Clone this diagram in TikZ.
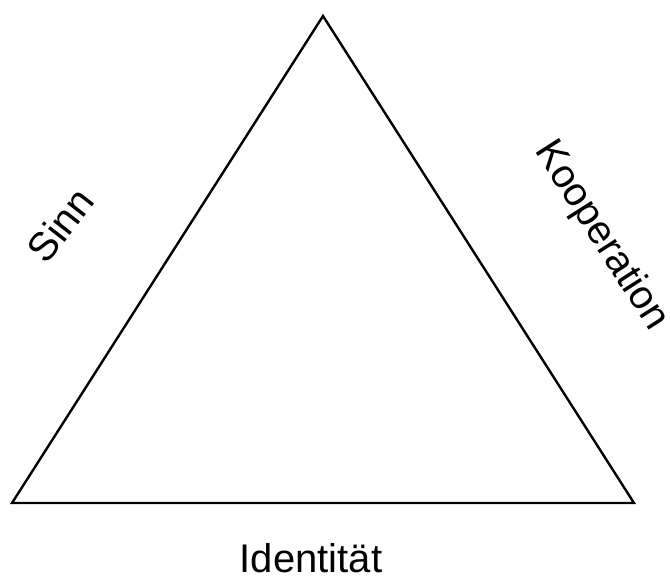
\documentclass[tikz,border=0pt]{standalone}
\usepackage{fontspec}
\setmainfont{Liberation Sans}
\begin{document}
\begin{tikzpicture}[x=1pt,y=-1pt,
  lbl/.style={font=\fontsize{40}{48}\selectfont, inner sep=0pt, anchor=center},
  side/.style={draw=black, line width=2.4pt, line join=miter}]
\useasboundingbox (0,0) rectangle (670,579);
\coordinate (top) at (323,16);
\coordinate (bl) at (12,503);
\coordinate (br) at (634,503);
\draw[side] (top) -- (br) -- (bl) -- cycle;
\node[lbl, rotate=52] (sinn) at (60,225) {Sinn};
\node[lbl, rotate=-57.5] (koop) at (601,236) {Kooperation};
\node[lbl, anchor=base] (ident) at (311,572) {Identität};
\end{tikzpicture}
\end{document}
